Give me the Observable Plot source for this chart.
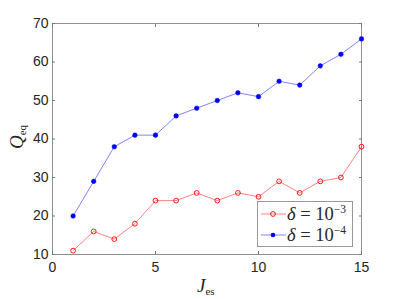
<!DOCTYPE html>
<html><head><meta charset="utf-8">
<script src="https://cdn.jsdelivr.net/npm/d3@7"></script>
<script src="https://cdn.jsdelivr.net/npm/@observablehq/plot@0.6"></script>
<style>
body{margin:0;background:#fff}
#wrap{position:relative;width:399px;height:299px;overflow:hidden}
.lab{position:absolute;font-family:"Liberation Serif","Times New Roman",serif;color:#262626;white-space:nowrap}
.lab i{font-style:italic}
.lab sub{font-size:11px;vertical-align:-3px;font-style:normal}
#legend{position:absolute;left:257px;top:201px;width:96px;height:46px;border:1px solid #999;background:#fff;box-sizing:border-box}
.row{position:absolute;left:3px;height:20px;display:flex;align-items:center;font-family:"Liberation Serif","Times New Roman",serif;font-size:18.5px;color:#262626}
.row sup{font-size:11.5px;vertical-align:7px}
</style>
</head><body>
<div id="wrap"></div>
<script>
const J = [1,2,3,4,5,6,7,8,9,10,11,12,13,14,15];
const q3 = [11,16,14,18,24,24,26,24,26,25,29,26,29,30,38];
const q4 = [20,29,38,41,41,46,48,50,52,51,55,54,59,62,66];
const xTicks = [0,5,10,15];
const yTicks = [10,20,30,40,50,60,70];
const red = "#ff0000", blue = "#0000ff";

const d3s = J.map((j,i)=>({j, q:q3[i]}));
const d4s = J.map((j,i)=>({j, q:q4[i]}));

const axisColor = "#777";
const plot = Plot.plot({
  width:399, height:299,
  marginLeft:52, marginRight:38, marginTop:23, marginBottom:45,
  style:{fontFamily:"'Liberation Sans', Arial, sans-serif", fontSize:"14px", color:"#262626", background:"#fff"},
  x:{domain:[0,15]},
  y:{domain:[10,70]},
  marks:[
    Plot.frame({stroke:axisColor, strokeWidth:0.8}),
    Plot.axisX(xTicks,{anchor:"bottom", tickSize:-3, text:null, stroke:axisColor, label:null}),
    Plot.axisX(xTicks,{anchor:"top", tickSize:-3, text:null, stroke:axisColor, label:null}),
    Plot.axisY(yTicks,{anchor:"left", tickSize:-3, text:null, stroke:axisColor, label:null}),
    Plot.axisY(yTicks,{anchor:"right", tickSize:-3, text:null, stroke:axisColor, label:null}),
    Plot.axisX(xTicks,{anchor:"bottom", tickSize:0, tickPadding:8, label:null, fill:"#262626"}),
    Plot.axisY(yTicks,{anchor:"left", tickSize:0, tickPadding:4, label:null, fill:"#262626"}),
    Plot.line(d4s,{x:"j", y:"q", stroke:blue, strokeWidth:0.7, strokeOpacity:0.7}),
    Plot.dot(d4s,{x:"j", y:"q", r:2.3, fill:blue, stroke:blue, strokeWidth:0.5}),
    Plot.line(d3s,{x:"j", y:"q", stroke:red, strokeWidth:0.7, strokeOpacity:0.7}),
    Plot.dot(d3s,{x:"j", y:"q", r:2.4, fill:"none", stroke:red, strokeWidth:0.9})
  ]
});
const wrap = document.getElementById("wrap");
wrap.appendChild(plot);

function rowHTML(color, filled, exp){
  const mk = filled
    ? `<circle cx="12" cy="10" r="2.3" fill="${color}"/>`
    : `<circle cx="12" cy="10" r="2.4" fill="none" stroke="${color}" stroke-width="0.9"/>`;
  return `<svg width="25" height="20"><line x1="0" y1="10" x2="25" y2="10" stroke="${color}" stroke-width="0.7" stroke-opacity="0.7"/>${mk}</svg>`+
    `<span style="margin-left:1px"><i>δ</i> = 10<sup>−${exp}</sup></span>`;
}
const legend = document.createElement("div");
legend.id = "legend";
legend.innerHTML = `<div class="row" style="top:2px">${rowHTML(red,false,3)}</div><div class="row" style="top:23px">${rowHTML(blue,true,4)}</div>`;
wrap.appendChild(legend);

const yl = document.createElement("div");
yl.className = "lab";
yl.style.cssText = "left:1px;top:126px;font-size:19px;transform:rotate(-90deg);transform-origin:center;width:32px;text-align:center";
yl.innerHTML = "<i>Q</i><sub>eq</sub>";
wrap.appendChild(yl);

const xl = document.createElement("div");
xl.className = "lab";
xl.style.cssText = "left:197px;top:275px;font-size:19px";
xl.innerHTML = "<i>J</i><sub>es</sub>";
wrap.appendChild(xl);
</script>
</body></html>
